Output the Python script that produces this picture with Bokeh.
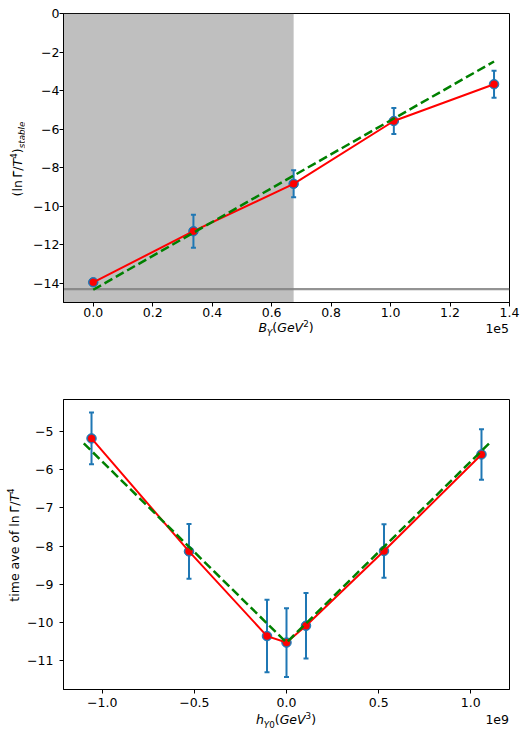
from bokeh.plotting import figure
from bokeh.layouts import column, row
from bokeh.models import BoxAnnotation, Span, FixedTicker, Range1d, Div
from bokeh.embed import file_html
from bokeh.resources import INLINE

# ---------------- data: top panel ----------------
b_y = [0.0, 33700.0, 67400.0, 101100.0, 134800.0]
ln_gamma_stable = [-13.95, -11.30, -8.84, -5.58, -3.67]
ln_gamma_stable_err = [0.10, 0.86, 0.70, 0.68, 0.70]
fit_top_x = [0.0, 134800.0]
fit_top_y = [-14.34, -2.49]
hline_level = -14.31

top_xticks = [0, 20000, 40000, 60000, 80000, 100000, 120000, 140000]
top_xtick_labels = ["0.0", "0.2", "0.4", "0.6", "0.8", "1.0", "1.2", "1.4"]
top_yticks = [0, -2, -4, -6, -8, -10, -12, -14]
top_ytick_labels = ["0", "\u22122", "\u22124", "\u22126", "\u22128", "\u221210", "\u221212", "\u221214"]

# ---------------- data: bottom panel ----------------
h_y0 = [-1.058e9, -0.529e9, -0.1058e9, 0.0, 0.1058e9, 0.529e9, 1.058e9]
ln_gamma_ave = [-5.18, -8.14, -10.36, -10.53, -10.09, -8.13, -5.60]
ln_gamma_ave_err = [0.68, 0.72, 0.95, 0.90, 0.86, 0.70, 0.66]
fit_bot_x = [-1.1e9, 0.0, 1.1e9]
fit_bot_y = [-5.31, -10.53, -5.31]

bot_xticks = [-1000000000, -500000000, 0, 500000000, 1000000000]
bot_xtick_labels = ["\u22121.0", "\u22120.5", "0.0", "0.5", "1.0"]
bot_yticks = [-11, -10, -9, -8, -7, -6, -5]
bot_ytick_labels = ["\u221211", "\u221210", "\u22129", "\u22128", "\u22127", "\u22126", "\u22125"]

# ---------------- text ----------------
top_xlabel = '<i>B</i><span class="sb"><i>Y</i></span>(<i>GeV</i><span class="sp">2</span>)'
top_ylabel = '(ln&#8201;\u0393&#772;/<i>T</i><span class="sp">4</span>)<span class="sb"><i>stable</i></span>'
top_offset = "1e5"
bot_xlabel = '<i>h</i><span class="sb"><i>Y</i>0</span>(<i>GeV</i><span class="sp">3</span>)'
bot_ylabel = 'time ave of ln&#8201;\u0393&#772;/<i>T</i><span class="sp">4</span>'
bot_offset = "1e9"

FONT = "DejaVu Sans"
BLUE = "#1f77b4"
FS = 12.5
W_TOTAL = 524
YDIV_W = 24

CSS = ("<style>.sb{font-size:70%;vertical-align:-3.5px;line-height:0;}"
       ".sp{font-size:70%;vertical-align:5px;line-height:0;}"
       ".t{font-family:'DejaVu Sans';font-size:12.5px;line-height:12.5px;color:black;"
       "white-space:nowrap;position:absolute;}</style>")


def xlabel_div(label, offset, height, top, off_top, center_x, right_pad):
    html = (CSS + f'<div style="position:relative;width:{W_TOTAL}px;height:{height}px;">'
            f'<div class="t" style="left:{center_x}px;top:{top}px;transform:translateX(-50%);">{label}</div>'
            f'<div class="t" style="right:{right_pad}px;top:{off_top}px;">{offset}</div></div>')
    return Div(text=html, width=W_TOTAL, height=height, margin=0, styles={"overflow": "visible"})


def ylabel_div(label, height, cx, cy):
    html = (CSS + f'<div style="position:relative;width:{YDIV_W}px;height:{height}px;">'
            f'<div class="t" style="left:{cx}px;top:{cy}px;'
            f'transform:translate(-50%,-50%) rotate(-90deg);">{label}</div></div>')
    return Div(text=html, width=YDIV_W, height=height, margin=0, styles={"overflow": "visible"})


def style_fig(p, xticks, xlabels, yticks, ylabels, xstand, ystand):
    p.xgrid.visible = False
    p.ygrid.visible = False
    p.outline_line_color = "black"
    p.outline_line_width = 1
    p.outline_line_alpha = 1.0
    p.background_fill_color = "white"
    p.border_fill_color = "white"
    p.xaxis.ticker = FixedTicker(ticks=xticks)
    p.yaxis.ticker = FixedTicker(ticks=yticks)
    p.xaxis.major_label_overrides = dict(zip(xticks, xlabels))
    p.yaxis.major_label_overrides = dict(zip(yticks, ylabels))
    for ax in (p.xaxis[0], p.yaxis[0]):
        ax.major_tick_out = 4
        ax.major_tick_in = 0
        ax.minor_tick_out = 0
        ax.minor_tick_in = 0
        ax.axis_line_color = "black"
        ax.major_tick_line_color = "black"
        ax.major_label_text_font = FONT
        ax.major_label_text_font_size = f"{FS}px"
        ax.major_label_text_color = "black"
    p.xaxis.major_label_standoff = xstand
    p.yaxis.major_label_standoff = ystand


def draw_data(p, x, y, err, fx, fy):
    upper = [v + e for v, e in zip(y, err)]
    lower = [v - e for v, e in zip(y, err)]
    p.segment(x0=x, y0=lower, x1=x, y1=upper, line_color=BLUE, line_width=2)
    p.scatter(x=x + x, y=upper + lower, marker="dash", size=5, line_color=BLUE, line_width=2)
    p.scatter(x=x, y=y, size=9.5, fill_color=BLUE, line_color=BLUE, line_width=1)
    p.line(x=x, y=y, line_color="red", line_width=2)
    p.scatter(x=x, y=y, size=7, fill_color="red", line_color="red", line_width=0.5)
    p.line(x=fx, y=fy, line_color="green", line_width=2.5, line_dash="9 4")


# ---------------- top figure ----------------
p1 = figure(frame_width=446, frame_height=289, x_range=Range1d(-10000, 140000),
            y_range=Range1d(-15, 0), output_backend="svg", toolbar_location=None,
            min_border_left=39, min_border_right=15, min_border_top=13, min_border_bottom=20)
style_fig(p1, top_xticks, top_xtick_labels, top_yticks, top_ytick_labels, 1, 0)
p1.add_layout(BoxAnnotation(right=b_y[2], fill_color="#808080", fill_alpha=0.5,
                            line_alpha=0, level="underlay"))
p1.add_layout(Span(location=hline_level, dimension="width", line_color="#808080",
                   line_alpha=0.85, line_width=2.2, level="underlay"))
draw_data(p1, b_y, ln_gamma_stable, ln_gamma_stable_err, fit_top_x, fit_top_y)

# ---------------- bottom figure ----------------
p2 = figure(frame_width=446, frame_height=290, x_range=Range1d(-1.21e9, 1.21e9),
            y_range=Range1d(-11.76, -4.16), output_backend="svg", toolbar_location=None,
            min_border_left=39, min_border_right=15, min_border_top=57, min_border_bottom=23)
style_fig(p2, bot_xticks, bot_xtick_labels, bot_yticks, bot_ytick_labels, 4, 6)
draw_data(p2, h_y0, ln_gamma_ave, ln_gamma_ave_err, fit_bot_x, fit_bot_y)

# ---------------- labels (HTML text) ----------------
y1 = ylabel_div(top_ylabel, 322, 18.4, 159)
x1 = xlabel_div(top_xlabel, top_offset, 20, 0.4, 1.4, 286, 15)
y2 = ylabel_div(bot_ylabel, 370, 14.7, 202.5)
x2 = xlabel_div(bot_xlabel, bot_offset, 19, 2.4, 2.4, 286, 15)

layout = column(row(y1, p1, spacing=0), x1, row(y2, p2, spacing=0), x2, spacing=0)
open("out.html", "w").write(file_html(layout, INLINE))
